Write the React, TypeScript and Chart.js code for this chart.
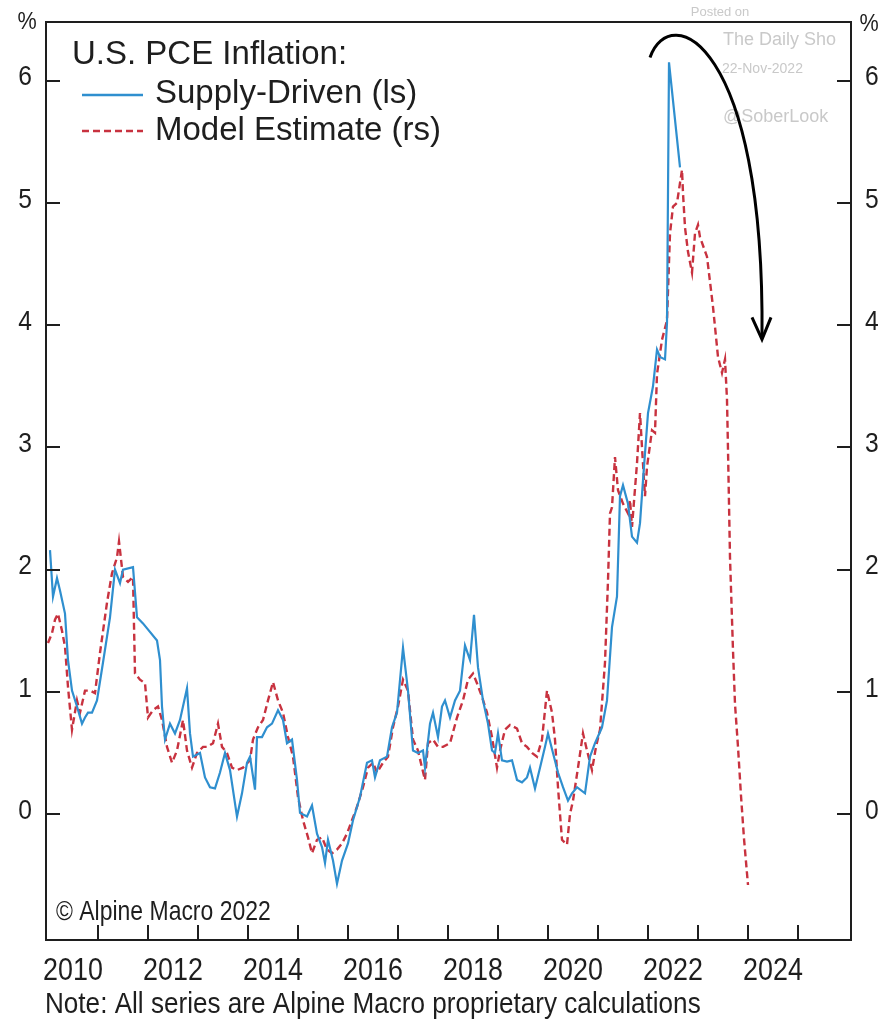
import React, { useEffect, useRef } from "react";
import { Chart, registerables } from "chart.js";

Chart.register(...registerables);

// ---------- data ----------
const SUPPLY_DATES = [
  2010.04, 2010.1, 2010.18, 2010.24, 2010.34, 2010.4, 2010.48, 2010.58, 2010.68, 2010.74,
  2010.8, 2010.88, 2010.98, 2011.1, 2011.24, 2011.34, 2011.44, 2011.5, 2011.7, 2011.78,
  2011.9, 2012.18, 2012.24, 2012.28, 2012.34, 2012.44, 2012.54, 2012.64, 2012.78, 2012.84,
  2012.9, 2013.04, 2013.14, 2013.24, 2013.34, 2013.44, 2013.54, 2013.64, 2013.78, 2013.88,
  2013.98, 2014.04, 2014.14, 2014.18, 2014.28, 2014.38, 2014.48, 2014.6, 2014.7, 2014.78,
  2014.88, 2014.98, 2015.04, 2015.18, 2015.28, 2015.38, 2015.48, 2015.54, 2015.6, 2015.7,
  2015.78, 2015.88, 2016.0, 2016.1, 2016.24, 2016.38, 2016.48, 2016.54, 2016.64, 2016.78,
  2016.88, 2016.98, 2017.1, 2017.2, 2017.3, 2017.4, 2017.5, 2017.54, 2017.64, 2017.7,
  2017.8, 2017.88, 2017.94, 2018.04, 2018.14, 2018.24, 2018.34, 2018.44, 2018.52, 2018.6,
  2018.7, 2018.8, 2018.88, 2018.94, 2019.0, 2019.08, 2019.18, 2019.28, 2019.38, 2019.48,
  2019.58, 2019.64, 2019.74, 2019.84, 2019.94, 2020.0, 2020.1, 2020.2, 2020.3, 2020.4,
  2020.48, 2020.58, 2020.74, 2020.84, 2020.94, 2021.08, 2021.18, 2021.28, 2021.38, 2021.44,
  2021.5, 2021.6, 2021.68, 2021.78, 2021.84, 2021.9, 2022.0, 2022.1, 2022.18, 2022.24,
  2022.34, 2022.38, 2022.42, 2022.64,
];
const SUPPLY_VALUES = [
  2.16, 1.78, 1.93, 1.83, 1.64, 1.26, 1.01, 0.88, 0.74, 0.79,
  0.83, 0.83, 0.93, 1.24, 1.61, 2.0, 1.89, 2.0, 2.02, 1.61,
  1.56, 1.42, 1.26, 0.88, 0.61, 0.74, 0.66, 0.77, 1.03, 0.66,
  0.47, 0.5, 0.3, 0.22, 0.21, 0.34, 0.5, 0.36, -0.02, 0.17,
  0.42, 0.47, 0.2, 0.63, 0.63, 0.71, 0.74, 0.85, 0.77, 0.58,
  0.61, 0.28, 0.01, -0.02, 0.07, -0.16, -0.27, -0.4, -0.21, -0.38,
  -0.57, -0.38, -0.24, -0.05, 0.14, 0.42, 0.44, 0.3, 0.44, 0.47,
  0.71, 0.83, 1.36, 1.01, 0.52, 0.5, 0.52, 0.38, 0.74, 0.83,
  0.63, 0.88, 0.93, 0.79, 0.93, 1.01, 1.38, 1.26, 1.63, 1.2,
  0.93, 0.74, 0.52, 0.5, 0.66, 0.44, 0.43, 0.44, 0.28, 0.26,
  0.3, 0.38, 0.21, 0.38, 0.55, 0.66, 0.5, 0.34, 0.22, 0.11,
  0.17, 0.22, 0.17, 0.47, 0.58, 0.71, 0.93, 1.53, 1.78, 2.6,
  2.69, 2.54, 2.27, 2.22, 2.38, 2.73, 3.28, 3.5, 3.8, 3.74,
  3.72, 4.02, 6.15, 5.29,
];

const MODEL_DATES = [
  2010.0, 2010.08, 2010.14, 2010.2, 2010.28, 2010.34, 2010.4, 2010.48, 2010.58, 2010.64,
  2010.74, 2010.84, 2010.94, 2011.04, 2011.18, 2011.28, 2011.38, 2011.42, 2011.5, 2011.6,
  2011.7, 2011.74, 2011.84, 2011.94, 2012.0, 2012.1, 2012.2, 2012.28, 2012.38, 2012.48,
  2012.58, 2012.7, 2012.78, 2012.88, 2012.98, 2013.1, 2013.18, 2013.3, 2013.4, 2013.48,
  2013.58, 2013.68, 2013.78, 2013.9, 2014.04, 2014.1, 2014.2, 2014.3, 2014.4, 2014.5,
  2014.6, 2014.7, 2014.8, 2014.9, 2015.0, 2015.1, 2015.2, 2015.28, 2015.38, 2015.48,
  2015.58, 2015.68, 2015.78, 2015.88, 2015.98, 2016.08, 2016.18, 2016.3, 2016.4, 2016.5,
  2016.58, 2016.7, 2016.8, 2016.9, 2017.0, 2017.1, 2017.2, 2017.3, 2017.4, 2017.48,
  2017.54, 2017.6, 2017.7, 2017.8, 2017.9, 2018.04, 2018.18, 2018.3, 2018.4, 2018.5,
  2018.58, 2018.68, 2018.78, 2018.88, 2018.98, 2019.04, 2019.14, 2019.24, 2019.38, 2019.48,
  2019.58, 2019.68, 2019.78, 2019.88, 2019.98, 2020.08, 2020.14, 2020.2, 2020.24, 2020.28,
  2020.38, 2020.44, 2020.5, 2020.6, 2020.7, 2020.78, 2020.88, 2020.96, 2021.04, 2021.14,
  2021.2, 2021.24, 2021.28, 2021.34, 2021.4, 2021.5, 2021.6, 2021.64, 2021.68, 2021.78,
  2021.84, 2021.88, 2021.94, 2021.98, 2022.08, 2022.14, 2022.18, 2022.28, 2022.38, 2022.44,
  2022.5, 2022.58, 2022.68, 2022.7, 2022.74, 2022.8, 2022.88, 2022.94, 2023.0, 2023.04,
  2023.18, 2023.3, 2023.4, 2023.48, 2023.54, 2023.58, 2023.6, 2023.64, 2023.7, 2023.74,
  2023.8, 2023.86, 2023.92, 2024.0,
];
const MODEL_VALUES = [
  1.4, 1.48, 1.59, 1.64, 1.5, 1.37, 1.04, 0.69, 0.93, 0.83,
  1.01, 1.01, 0.99, 1.32, 1.73, 1.97, 2.1, 2.23, 1.94, 1.9,
  1.94, 1.15, 1.1, 1.07, 0.79, 0.85, 0.88, 0.77, 0.55, 0.42,
  0.52, 0.77, 0.52, 0.38, 0.5, 0.55, 0.55, 0.58, 0.74, 0.55,
  0.5, 0.38, 0.36, 0.38, 0.44, 0.61, 0.71, 0.77, 0.93, 1.08,
  0.93, 0.83, 0.63, 0.47, 0.14, -0.05, -0.19, -0.32, -0.21, -0.19,
  -0.29, -0.32, -0.29, -0.24, -0.16, -0.05, 0.06, 0.22, 0.38, 0.42,
  0.34, 0.42, 0.47, 0.71, 0.88, 1.1, 1.01, 0.61, 0.52, 0.38,
  0.28, 0.58, 0.61, 0.55, 0.55, 0.58, 0.79, 0.93, 1.1, 1.15,
  1.07, 0.96, 0.83, 0.63, 0.38, 0.52, 0.69, 0.73, 0.7, 0.58,
  0.55, 0.5, 0.47, 0.61, 1.01, 0.83, 0.61, 0.22, 0.0, -0.21,
  -0.25, 0.0, 0.11, 0.38, 0.66, 0.52, 0.36, 0.55, 0.69, 1.24,
  1.91, 2.46, 2.51, 2.92, 2.65, 2.54, 2.46, 2.57, 2.35, 2.87,
  3.28, 3.0, 2.6, 2.84, 3.14, 3.12, 3.6, 3.88, 4.04, 4.75,
  4.97, 5.0, 5.27, 5.08, 4.8, 4.6, 4.43, 4.75, 4.82, 4.72,
  4.56, 4.15, 3.74, 3.61, 3.72, 3.39, 2.98, 2.1, 1.34, 0.9,
  0.55, 0.15, -0.2, -0.58,
];

const Y_TICKS = [0, 1, 2, 3, 4, 5, 6];
const YEAR_TICKS = [2011, 2012, 2013, 2014, 2015, 2016, 2017, 2018, 2019, 2020, 2021, 2022, 2023, 2024, 2025];
const YEAR_LABELS = [2010, 2012, 2014, 2016, 2018, 2020, 2022, 2024];
const ARROW_X = [2022.04, 2022.44, 2024.34, 2024.28];
const ARROW_Y = [6.19, 6.66, 6.33, 3.9];

const TITLE = "U.S. PCE Inflation:";
const SERIES_NAMES = ["Supply-Driven (ls)", "Model Estimate (rs)"];
const COPYRIGHT = "\u00A9 Alpine Macro 2022";
const NOTE = "Note: All series are Alpine Macro proprietary calculations";
const WATERMARK = ["Posted on", "The Daily Sho", "22-Nov-2022", "@SoberLook"];

const BLUE = "#2f8fcf";
const RED = "#c8323f";
const INK = "#1e1e1e";
const REG = "'Liberation Sans', Arial, sans-serif";

function squeezed(ctx: any, text: string, x: number, y: number, size: number, sx: number, align: string, baseline: string) {
  ctx.save();
  ctx.translate(x, y);
  ctx.scale(sx, 1);
  ctx.font = `${size}px ${REG}`;
  ctx.textAlign = align;
  ctx.textBaseline = baseline;
  ctx.fillText(text, 0, 0);
  ctx.restore();
}

const decor = {
  id: "decor",
  afterDatasetsDraw(chart: any) {
    const { ctx, chartArea: a, scales } = chart;
    const xs = scales.x;
    const ys = scales.y;
    const ys2 = scales.y2;
    ctx.save();

    // watermark
    ctx.save();
    ctx.beginPath();
    ctx.rect(0, 0, a.right - 1, chart.height);
    ctx.clip();
    ctx.fillStyle = "#c9c9c9";
    ctx.textBaseline = "middle";
    ctx.textAlign = "center";
    ctx.font = `13px ${REG}`;
    ctx.fillText(WATERMARK[0], 720, 12);
    ctx.textAlign = "left";
    ctx.font = `18px ${REG}`;
    ctx.fillText(WATERMARK[1], 723, 40);
    ctx.font = `14px ${REG}`;
    ctx.fillText(WATERMARK[2], 722, 69);
    ctx.font = `18px ${REG}`;
    ctx.fillText(WATERMARK[3], 723, 117);
    ctx.restore();

    // frame
    ctx.strokeStyle = INK;
    ctx.lineWidth = 2;
    ctx.strokeRect(a.left, a.top, a.right - a.left, a.bottom - a.top);

    // inside ticks
    ctx.beginPath();
    Y_TICKS.forEach((v) => {
      const py = Math.round(ys.getPixelForValue(v));
      ctx.moveTo(a.left, py);
      ctx.lineTo(a.left + 14, py);
      ctx.moveTo(a.right - 14, py);
      ctx.lineTo(a.right, py);
    });
    YEAR_TICKS.forEach((yr) => {
      const px = Math.round(xs.getPixelForValue(yr));
      ctx.moveTo(px, a.bottom);
      ctx.lineTo(px, a.bottom - 15);
    });
    ctx.stroke();

    // tick labels
    ctx.fillStyle = INK;
    Y_TICKS.forEach((v) => {
      squeezed(ctx, String(v), a.left - 14, ys.getPixelForValue(v) - 3, 28, 0.88, "right", "middle");
      squeezed(ctx, String(v), a.right + 14, ys2.getPixelForValue(v) - 3, 28, 0.88, "left", "middle");
    });
    YEAR_LABELS.forEach((yr) => {
      squeezed(ctx, String(yr), xs.getPixelForValue(yr + 0.5), a.bottom + 31, 32, 0.84, "center", "middle");
    });

    // % unit labels
    squeezed(ctx, "%", 27, 22, 24, 0.9, "center", "middle");
    squeezed(ctx, "%", 869, 24, 24, 0.9, "center", "middle");

    // legend
    ctx.textAlign = "left";
    ctx.textBaseline = "alphabetic";
    ctx.font = `33px ${REG}`;
    ctx.fillText(TITLE, 72, 64);
    ctx.fillText(SERIES_NAMES[0], 155, 103);
    ctx.fillText(SERIES_NAMES[1], 155, 140);
    ctx.lineWidth = 2.5;
    ctx.strokeStyle = BLUE;
    ctx.beginPath();
    ctx.moveTo(82, 95);
    ctx.lineTo(143, 95);
    ctx.stroke();
    ctx.strokeStyle = RED;
    ctx.setLineDash([7, 4]);
    ctx.beginPath();
    ctx.moveTo(82, 131);
    ctx.lineTo(143, 131);
    ctx.stroke();
    ctx.setLineDash([]);

    // copyright & note
    ctx.fillStyle = INK;
    squeezed(ctx, COPYRIGHT, 56, 920, 28, 0.82, "left", "alphabetic");
    squeezed(ctx, NOTE, 45, 1013, 29, 0.9, "left", "alphabetic");

    // arrow
    const p = ARROW_X.map((xv, i) => [xs.getPixelForValue(xv), ys.getPixelForValue(ARROW_Y[i])]);
    ctx.strokeStyle = "#000";
    ctx.lineWidth = 3;
    ctx.beginPath();
    ctx.moveTo(p[0][0], p[0][1]);
    ctx.bezierCurveTo(p[1][0], p[1][1], p[2][0], p[2][1], p[3][0], p[3][1]);
    ctx.stroke();
    ctx.beginPath();
    ctx.moveTo(p[3][0] - 10, p[3][1] - 20);
    ctx.lineTo(p[3][0], p[3][1] + 2);
    ctx.lineTo(p[3][0] + 9, p[3][1] - 20);
    ctx.stroke();

    ctx.restore();
  },
};

const hiddenTicks = { display: false };

export default function App() {
  const ref = useRef<HTMLCanvasElement | null>(null);
  useEffect(() => {
    if (!ref.current) return;
    const chart = new Chart(ref.current, {
      type: "line",
      data: {
        datasets: [
          {
            label: SERIES_NAMES[0],
            data: SUPPLY_DATES.map((d, i) => ({ x: d, y: SUPPLY_VALUES[i] })),
            borderColor: BLUE,
            borderWidth: 2.2,
            pointRadius: 0,
            tension: 0,
            yAxisID: "y",
          },
          {
            label: SERIES_NAMES[1],
            data: MODEL_DATES.map((d, i) => ({ x: d, y: MODEL_VALUES[i] })),
            borderColor: RED,
            borderWidth: 2.4,
            borderDash: [7, 4],
            pointRadius: 0,
            tension: 0,
            yAxisID: "y2",
          },
        ],
      },
      options: {
        animation: false,
        responsive: false,
        devicePixelRatio: 1,
        layout: { padding: { top: 22, left: 0, right: 0, bottom: 0 } },
        plugins: {
          legend: { display: false },
          tooltip: { enabled: false },
          title: { display: false },
        },
        scales: {
          x: {
            type: "linear",
            min: 2009.96,
            max: 2026.06,
            grid: { display: false, drawTicks: false },
            border: { display: false },
            ticks: hiddenTicks,
            afterFit: (s: any) => {
              s.height = 85;
              s.paddingLeft = 0;
              s.paddingRight = 0;
            },
          },
          y: {
            position: "left",
            min: -1.03,
            max: 6.48,
            grid: { display: false, drawTicks: false },
            border: { display: false },
            ticks: hiddenTicks,
            afterFit: (s: any) => {
              s.width = 46;
              s.paddingTop = 0;
              s.paddingBottom = 0;
            },
          },
          y2: {
            position: "right",
            min: -1.03,
            max: 6.48,
            grid: { display: false, drawTicks: false },
            border: { display: false },
            ticks: hiddenTicks,
            afterFit: (s: any) => {
              s.width = 30;
              s.paddingTop = 0;
              s.paddingBottom = 0;
            },
          },
        },
      },
      plugins: [decor],
    });
    return () => chart.destroy();
  }, []);

  return (
    <div style={{ position: "absolute", left: 0, top: 0, width: 881, height: 1025, background: "#fff" }}>
      <canvas ref={ref} width={881} height={1025} style={{ display: "block", width: 881, height: 1025 }} />
    </div>
  );
}
